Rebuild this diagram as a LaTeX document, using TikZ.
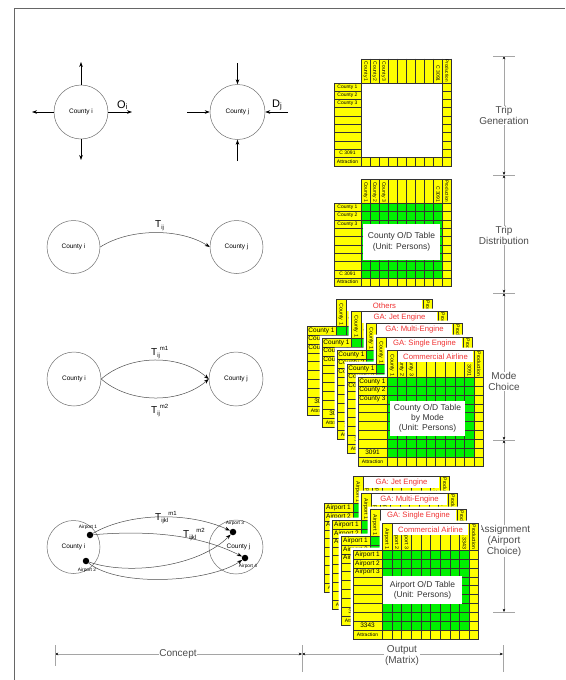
\documentclass[tikz,border=0pt]{standalone}
\usepackage{fontspec}
\setmainfont{Liberation Sans}
\usetikzlibrary{arrows.meta}
\definecolor{tyellow}{RGB}{255,255,0}
\definecolor{tgreen}{RGB}{0,240,0}
\definecolor{tred}{RGB}{240,50,50}
\definecolor{axisgray}{RGB}{165,165,165}
\definecolor{txtgray}{RGB}{85,85,85}
\definecolor{circgray}{RGB}{110,110,110}
\newif\ifhalo
\newif\ifwhiteinner
\newcommand\fs[1]{\fontsize{#1}{#1}\selectfont}
\newcommand\Tl[2]{T\raisebox{-2.2pt}{\fs{6}#1}\raisebox{4.5pt}{\fs{6}#2}}
\tikzset{
  tgrid/.style={draw=black!80, line width=0.35pt},
  rl/.style={inner sep=0, text=black},
  hl/.style={rotate=-90, anchor=east, inner sep=0, text=black},
  lbox/.style={fill=white, text=tred, font=\fs{7.7}, minimum width=75, minimum height=11, inner sep=0},
  cbox/.style={fill=white, align=center, inner sep=0, text=black!80},
  cty/.style={circle, draw=circgray, line width=0.5pt, inner sep=0, font=\fs{6.5}},
  arr/.style={line width=0.6pt, -{Stealth[length=5pt,width=3.6pt]}},
  flowarc/.style={draw=black!70, line width=0.5pt, -{Stealth[length=5pt,width=3.6pt,color=black]}},
  apt/.style={circle, fill=black, minimum size=6.5, inner sep=0},
  aptlbl/.style={inner sep=0, font=\fs{4.8}},
  tl/.style={inner sep=0, font=\fs{10}, anchor=base west},
  pageframe/.style={draw=black!60, line width=0.8pt},
  dimline/.style={draw=axisgray, line width=0.9pt, {Stealth[length=3.2pt,width=2.6pt,color=black]}-{Stealth[length=3.2pt,width=2.6pt,color=black]}},
  tickline/.style={draw=axisgray, line width=0.9pt},
  axlbl/.style={fill=white, inner sep=0.6pt, align=center, text=black!70, font=\fontsize{10}{11}\selectfont},
}
\newcommand\MTab[4]{%
  \pgfmathsetmacro\tXa{#2+\tLW}%
  \pgfmathsetmacro\tXb{\tXa+9*\tCW}%
  \pgfmathsetmacro\tXc{\tXb+\tPW}%
  \pgfmathsetmacro\tYa{#3+\tHH}%
  \pgfmathsetmacro\tYb{\tYa+9*\tRH}%
  \pgfmathsetmacro\tYc{\tYb+\tRH}%
  \pgfmathsetmacro\tXm{#2+0.5*\tLW}%
  \ifhalo\fill[white] ({#2-2.5},{\tYa-2.5}) -- ({\tXa-2.5},{\tYa-2.5}) -- ({\tXa-2.5},{#3-2.5}) -- ({\tXc+2.5},{#3-2.5}) -- ({\tXc+2.5},{\tYc+2.5}) -- ({#2-2.5},{\tYc+2.5}) -- cycle;\fi
  \fill[tyellow] (\tXa,#3) rectangle (\tXc,\tYa);
  \fill[tyellow] (#2,\tYa) rectangle (\tXc,\tYc);
  \fill[tgreen] (\tXa,\tYa) rectangle (\tXb,\tYb);
  \foreach \i in {0,...,9}{\draw[tgrid] ({\tXa+\i*\tCW},#3) -- ({\tXa+\i*\tCW},\tYc);}
  \draw[tgrid] (\tXc,#3) -- (\tXc,\tYc);
  \draw[tgrid] (#2,\tYa) -- (#2,\tYc);
  \draw[tgrid] (\tXa,#3) -- (\tXc,#3);
  \foreach \j in {0,...,10}{\draw[tgrid] (#2,{\tYa+\j*\tRH}) -- (\tXc,{\tYa+\j*\tRH});}
  \ifwhiteinner\draw[tgrid,fill=white] (\tXa,\tYa) rectangle (\tXb,\tYb);\fi
  \node[rl,font=\fs{\tRowFs}] (#1-r1) at (\tXm,{\tYa+0.5*\tRH}) {\tRa};
  \node[rl,font=\fs{\tRowFs}] (#1-r2) at (\tXm,{\tYa+1.5*\tRH}) {\tRb};
  \node[rl,font=\fs{\tRowFs}] (#1-r3) at (\tXm,{\tYa+2.5*\tRH}) {\tRc};
  \node[rl,font=\fs{\tRowFs}] (#1-r9) at (\tXm,{\tYa+8.5*\tRH}) {\tRl};
  \node[rl,font=\fs{\tAttFs}] (#1-r10) at (\tXm,{\tYa+9.5*\tRH}) {Attraction};
  \node[hl,font=\fs{\tHdrFs}] (#1-h1) at ({\tXa+0.5*\tCW},{\tYa-0.8}) {\tRa};
  \node[hl,font=\fs{\tHdrFs}] (#1-h2) at ({\tXa+1.5*\tCW},{\tYa-0.8}) {\tRb};
  \node[hl,font=\fs{\tHdrFs}] (#1-h3) at ({\tXa+2.5*\tCW},{\tYa-0.8}) {\tRc};
  \node[hl,font=\fs{\tHdrFs}] (#1-h9) at ({\tXa+8.5*\tCW},{\tYa-0.8}) {\tHl};
  \node[hl,font=\fs{\tProdFs}] (#1-hp) at ({\tXb+0.5*\tPW},{\tYa-0.8}) {Production};
  \if\relax\detokenize{#4}\relax\else
    \node[lbox] (#1-lab) at ({#2+\tLW+11+37.5},{#3+6.5}) {#4};
  \fi
}
\begin{document}
\begin{tikzpicture}[x=1pt,y=-1pt]
\useasboundingbox (0,0) rectangle (565,680);
% page frame
\coordinate (fr1) at (14,680); \coordinate (fr2) at (14,8); \coordinate (fr3) at (565,8);
\draw[pageframe] (fr1) -- (fr2) -- (fr3);

% ---------- Row 1: trip generation concept
\node[cty, minimum size=54] (gi) at (81,112) {County i};
\node[cty, minimum size=55] (gj) at (237.5,112) {County j};
\coordinate (gin) at (81,62); \coordinate (gis) at (81,160);
\coordinate (giw) at (32,112); \coordinate (gie) at (132,112);
\draw[arr] (gi.north) -- (gin);
\draw[arr] (gi.south) -- (gis);
\draw[arr] (gi.west) -- (giw);
\draw[arr] (gi.east) -- (gie);
\coordinate (gjn) at (237.5,63); \coordinate (gjs) at (237.5,161);
\coordinate (gjw) at (187,112); \coordinate (gje) at (288,112);
\draw[arr] (gjn) -- (gj.north);
\draw[arr] (gjs) -- (gj.south);
\draw[arr] (gjw) -- (gj.west);
\draw[arr] (gje) -- (gj.east);
\node[inner sep=0, font=\fs{11}, anchor=base west] (oi) at (117,108) {O\textsubscript{i}};
\node[inner sep=0, font=\fs{11}, anchor=base west] (dj) at (272,107) {D\textsubscript{j}};

% ---------- Row 2: trip distribution concept
\node[cty, minimum size=53] (di) at (73.5,247) {County i};
\node[cty, minimum size=53] (dj2) at (236.5,247) {County j};
\draw[flowarc] (di.east) .. controls (130,228) and (180,228) .. (dj2.west);
\node[tl] (tdist) at (155,227) {\Tl{ij}{}};

% ---------- Row 3: mode choice concept
\node[cty, minimum size=54] (mi) at (74,379) {County i};
\node[cty, minimum size=54] (mj) at (236,379) {County j};
\draw[flowarc] (mi.east) .. controls (130,354) and (180,354) .. (mj.west);
\draw[flowarc] (mi.east) .. controls (130,404) and (180,404) .. (mj.west);
\node[tl] (tm1) at (151,355) {\Tl{ij}{m1}};
\node[tl] (tm2) at (151,413) {\Tl{ij}{m2}};

% ---------- Row 4: assignment concept
\node[cty, minimum size=53] (ai) at (73.5,547) {County i};
\node[cty, minimum size=54] (aj) at (236,547) {\hspace*{5pt}County j};
\node[apt] (ap1) at (90,535) {};
\node[apt] (ap2) at (86,561) {};
\node[apt] (ap3) at (233,532) {};
\node[apt] (ap4) at (245,558) {};
\node[aptlbl] (ap1l) at (88,527) {Airport 1};
\node[aptlbl] (ap2l) at (87,570) {Airport 2};
\node[aptlbl] (ap3l) at (235,523.5) {Airport 3};
\node[aptlbl] (ap4l) at (248,566) {Airport 4};
\draw[flowarc] (ap1) .. controls (130,512) and (190,512) .. (ap3);
\draw[flowarc] (ap1) .. controls (150,530) and (200,535) .. (ap4);
\draw[flowarc] (ap2) .. controls (130,576) and (200,566) .. (ap3);
\draw[flowarc] (ap2) .. controls (120,588) and (210,582) .. (ap4);
\node[tl] (ta1) at (155,520) {\Tl{ijkl}{m1}};
\node[tl] (ta2) at (183,537) {\Tl{ijkl}{m2}};

% ---------- right axis
\coordinate (v0) at (504,56); \coordinate (v1) at (504,175); \coordinate (v2) at (504,293);
\coordinate (v3) at (504,440); \coordinate (v4) at (504,612);
\draw[dimline] (v0) -- (v1);
\draw[dimline] (v1) -- (v2);
\draw[dimline] (v2) -- (v3);
\draw[dimline] (v3) -- (v4);
\coordinate (k0a) at (493,56); \coordinate (k0b) at (515,56);
\coordinate (k1a) at (493,175); \coordinate (k1b) at (515,175);
\coordinate (k2a) at (493,293); \coordinate (k2b) at (515,293);
\coordinate (k3a) at (493,440); \coordinate (k3b) at (515,440);
\coordinate (k4a) at (493,612); \coordinate (k4b) at (515,612);
\draw[tickline] (k0a) -- (k0b);
\draw[tickline] (k1a) -- (k1b);
\draw[tickline] (k2a) -- (k2b);
\draw[tickline] (k3a) -- (k3b);
\draw[tickline] (k4a) -- (k4b);
\node[axlbl] (lgen) at (504,115.5) {Trip\\Generation};
\node[axlbl] (ldst) at (504,235.5) {Trip\\Distribution};
\node[axlbl] (lmod) at (504,381.5) {Mode\\Choice};
\node[axlbl] (lasg) at (504,541) {Assignment\\(Airport\\Choice)};

% ---------- bottom axis
\coordinate (b0) at (55,654); \coordinate (b1) at (302,654); \coordinate (b2) at (503,654);
\draw[dimline] (b0) -- (b1);
\draw[dimline] (b1) -- (b2);
\coordinate (bt0a) at (55,645); \coordinate (bt0b) at (55,666);
\coordinate (bt1a) at (302,645); \coordinate (bt1b) at (302,672);
\coordinate (bt2a) at (503,645); \coordinate (bt2b) at (503,672);
\draw[tickline] (bt0a) -- (bt0b);
\draw[tickline] (bt1a) -- (bt1b);
\draw[tickline] (bt2a) -- (bt2b);
\node[axlbl] (lcon) at (178,654) {Concept};
\node[axlbl] (lout) at (402,655.5) {Output\\(Matrix)};

% ---------- tables: generation / distribution
\def\tLW{27}\def\tCW{9.07}\def\tPW{9}\def\tHH{24}\def\tRH{8.3}
\def\tRowFs{5}\def\tAttFs{5}\def\tHdrFs{5}\def\tProdFs{4.6}
\def\tRa{County 1}\def\tRb{County 2}\def\tRc{County 3}\def\tRl{C 3091}\def\tHl{C 3091}
\halofalse
\whiteinnertrue
\MTab{gen}{334}{58.7}{}
\whiteinnerfalse
\MTab{dst}{334}{179.3}{}
\node[cbox, minimum width=77, minimum height=36, font=\fontsize{8.5}{10.6}\selectfont] (dstc) at (401.5,242) {County O/D Table\\(Unit: Persons)};

% ---------- tables: mode choice
\def\tLW{29}\def\tCW{9.7}\def\tPW{9.3}\def\tHH{27}\def\tRH{8.9}
\def\tRowFs{6.5}\def\tAttFs{5}\def\tHdrFs{5.3}\def\tProdFs{5.1}
\def\tRl{3091}\def\tHl{C 3091}
\halotrue
\MTab{m4}{307}{299}{Others}
\MTab{m3}{322}{311}{GA: Jet Engine}
\MTab{m2}{337}{323}{GA: Multi-Engine}
\MTab{m1}{347}{337}{GA: Single Engine}
\MTab{m0}{358}{350}{Commercial Airline}
\node[cbox, minimum width=75, minimum height=35, font=\fontsize{8.5}{9.8}\selectfont] (m0c) at (427.5,418.5) {County O/D Table\\by Mode\\(Unit: Persons)};

% ---------- tables: assignment
\def\tRa{Airport 1}\def\tRb{Airport 2}\def\tRc{Airport 3}\def\tRl{3343}\def\tHl{A 3343}
\MTab{a3}{324}{476}{GA: Jet Engine}
\MTab{a2}{332}{493}{GA: Multi-Engine}
\MTab{a1}{341}{509}{GA: Single Engine}
\MTab{a0}{353}{523}{Commercial Airline}
\node[cbox, minimum width=79, minimum height=28, font=\fontsize{8.5}{10}\selectfont] (a0c) at (422.5,590) {Airport O/D Table\\(Unit: Persons)};
\end{tikzpicture}
\end{document}
